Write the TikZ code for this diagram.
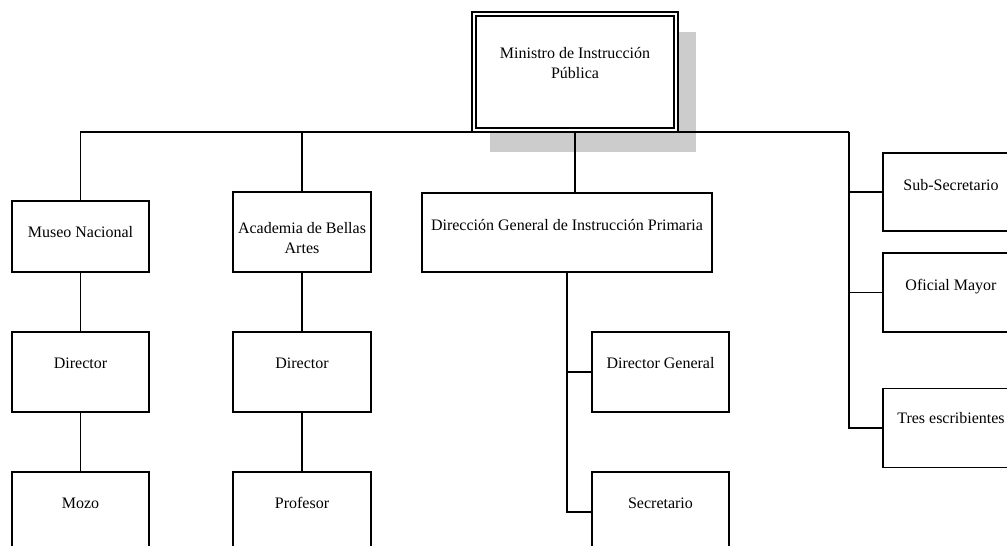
\documentclass[tikz,border=0pt]{standalone}
\usepackage{fontspec}
\setmainfont{Liberation Serif}
\definecolor{shadowc}{RGB}{204,204,204}
\pgfdeclarelayer{bg}
\pgfsetlayers{bg,main}
\begin{document}
\begin{tikzpicture}[x=1pt,y=-1pt,line width=1.1pt,
  box/.style={draw=black,fill=white,minimum width=137pt,minimum height=80pt,inner sep=0pt,outer sep=0pt},
  txt/.style={font=\fontsize{16}{20}\selectfont,inner sep=0pt,anchor=base,align=center},
  mtxt/.style={font=\fontsize{16}{20}\selectfont,inner sep=0pt,anchor=north,align=center},
  conn/.style={draw=black,line width=1.1pt}]
\useasboundingbox (0,0) rectangle (1007,546);
\clip (0,0) rectangle (1007,546);
% boxes
\node[box,minimum width=206pt,minimum height=120pt] (min) at (575,72) {};
\draw ([xshift=4pt,yshift=-4pt]min.north west) rectangle ([xshift=-4pt,yshift=4pt]min.south east);
\node[box,minimum height=71pt] (museo) at (80.5,236.5) {};
\node[box,minimum width=138pt] (acad) at (302,232) {};
\node[box,minimum width=290pt,minimum height=79pt] (dirg) at (567,232.5) {};
\node[box,minimum width=136pt,minimum height=78pt] (sub) at (951,192) {};
\node[box,minimum width=136pt,minimum height=79pt] (ofic) at (951,292.5) {};
\node[box,minimum width=136pt,minimum height=79pt] (tres) at (951,428) {};
\node[box] (dirM) at (80.5,372) {};
\node[box,minimum width=138pt] (dirA) at (302,372) {};
\node[box] (dgen) at (660.5,372) {};
\node[box] (mozo) at (80.5,512) {};
\node[box,minimum width=138pt] (prof) at (302,512) {};
\node[box] (sec) at (660.5,512) {};
% texts
\node[mtxt] (tmin) at ([yshift=-34.6pt]min.north) {Ministro de Instrucción\\Pública};
\node[txt] (tmuseo) at ([yshift=-36pt]museo.north) {Museo Nacional};
\node[mtxt] (tacad) at ([yshift=-29.6pt]acad.north) {Academia de Bellas\\Artes};
\node[txt] (tdirg) at ([yshift=-37pt]dirg.north) {Dirección General de Instrucción Primaria};
\node[txt] (tsub) at ([yshift=-37pt]sub.north) {Sub-Secretario};
\node[txt] (tofic) at ([yshift=-37pt]ofic.north) {Oficial Mayor};
\node[txt] (ttres) at ([yshift=-35pt]tres.north) {Tres escribientes};
\node[txt] (tdirM) at ([yshift=-36pt]dirM.north) {Director};
\node[txt] (tdirA) at ([yshift=-36pt]dirA.north) {Director};
\node[txt] (tdgen) at ([yshift=-36pt]dgen.north) {Director General};
\node[txt] (tmozo) at ([yshift=-36pt]mozo.north) {Mozo};
\node[txt] (tprof) at ([yshift=-36pt]prof.north) {Profesor};
\node[txt] (tsec) at ([yshift=-36pt]sec.north) {Secretario};
\coordinate (busR) at (849,132);
\begin{pgfonlayer}{bg}
\fill[shadowc] ([xshift=18pt,yshift=-20pt]min.north west) rectangle ([xshift=18pt,yshift=-20pt]min.south east);
\draw[conn] (museo.north) |- (busR);
\draw[conn] (acad.north) -- (acad.north |- busR);
\draw[conn] (min.south) -- (min.south |- dirg.north);
\draw[conn] (busR) |- (sub.west);
\draw[conn] (busR) |- (ofic.west);
\draw[conn] (busR) |- (tres.west);
\draw[conn] (museo.south) -- (dirM.north);
\draw[conn] (dirM.south) -- (mozo.north);
\draw[conn] (acad.south) -- (dirA.north);
\draw[conn] (dirA.south) -- (prof.north);
\draw[conn] (dirg.south) |- (sec.west);
\draw[conn] (dirg.south |- dgen.west) -- (dgen.west);
\end{pgfonlayer}
\end{tikzpicture}
\end{document}
